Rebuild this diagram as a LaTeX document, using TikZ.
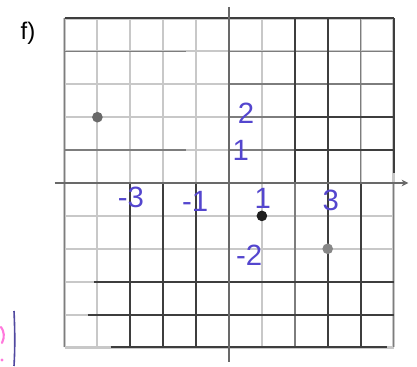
\documentclass[tikz,border=0pt]{standalone}
\usepackage{fontspec}
\setmainfont{Liberation Sans}
\usetikzlibrary{arrows.meta}
\tikzset{
	grid light/.style={draw={rgb, 255:red, 200; green, 200; blue, 200 }, line width=1.6pt},
	grid mid/.style={draw={rgb, 255:red, 125; green, 125; blue, 125 }, line width=1.3pt},
	grid dark/.style={draw={rgb, 255:red, 62; green, 62; blue, 62 }, line width=1.5pt},
	axis line/.style={draw={rgb, 255:red, 105; green, 105; blue, 105 }, line width=1.9pt},
	hand/.style={text={rgb, 255:red, 84; green, 70; blue, 206 }, font=\fontsize{22}{22}\selectfont, inner sep=0pt},
	plot pt/.style={circle, inner sep=0pt, minimum size=8pt}
}
\begin{document}
\begin{tikzpicture}[x=0.75pt,y=0.75pt]
	\useasboundingbox (0,0) rectangle (417,367);

	% Part label
	\node (lblF) at (28,334) {\fontsize{18}{18}\selectfont f)};

	% Margin marks
	\draw [draw={rgb, 255:red, 255; green, 120; blue, 220 }, line width=1.6pt, line cap=round] (1,40) .. controls (4,36) and (5,30) .. (2,24) ;
	\fill [fill={rgb, 255:red, 255; green, 120; blue, 220 }] (2,7) circle (1.6) ;
	\draw [draw={rgb, 255:red, 80; green, 72; blue, 160 }, line width=1.2pt] (14,56) .. controls (15,35) and (15,18) .. (14,1) ;

	\begin{scope}[shift={(229,184)}, x=24.675pt, y=24.675pt]
		% Grid
		\foreach \k in {-5,...,5} {
			\draw [grid light] (\k,-5) -- (\k,5) ;
			\draw [grid light] (-5,\k) -- (5,\k) ;
		}
		\draw [grid mid] (-5,-5) -- (-5,5) ;
		\draw [grid mid] (-5,4) -- (-1.3,4) (-5,1) -- (-1.3,1) ;
		\draw [grid mid] (0,4) -- (5,4) (0,3) -- (5,3) (0,2) -- (5,2) (0,1) -- (5,1) ;
		\draw [grid mid] (4,0) -- (4,5) (2,0) -- (2,-5) (5,0) -- (5,-5) ;
		\draw [grid dark] (-5,5) -- (5,5) ;
		\draw [grid dark] (2,0) -- (2,5) (3,0) -- (3,5) (5,0.3) -- (5,5) ;
		\draw [grid dark] (2,2) -- (5,2) (2,1) -- (5,1) ;
		\draw [grid dark] (-3,0) -- (-3,-5) (-2,0) -- (-2,-5) (-1,0) -- (-1,-5) ;
		\draw [grid dark] (3,0) -- (3,-5) (4,0) -- (4,-5) ;
		\draw [grid dark] (-4.1,-3) -- (5,-3) (-4.3,-4) -- (5,-4) (-3.6,-5) -- (4.8,-5) ;

		% Axes
		\coordinate (xL) at (-5.3,0);
		\coordinate (xR) at (5.45,0);
		\coordinate (yT) at (0,5.35);
		\coordinate (yB) at (0,-5.45);
		\draw [axis line, -{Stealth[length=5pt, width=5pt]}] (xL) -- (xR) ;
		\draw [axis line] (yT) -- (yB) ;

		% Points
		\node [plot pt, fill={rgb, 255:red, 105; green, 105; blue, 105 }] (ptA) at (-4,2) {};
		\node [plot pt, fill={rgb, 255:red, 30; green, 30; blue, 30 }] (ptB) at (1,-1) {};
		\node [plot pt, fill={rgb, 255:red, 135; green, 135; blue, 135 }] (ptC) at (3,-2) {};

		% Axis numbers
		\node [hand] (tY2) at (0.52,2.13) {2};
		\node [hand] (tY1) at (0.36,1.0) {1};
		\node [hand] (tYm2) at (0.61,-2.19) {-2};
		\node [hand] (tXm3) at (-2.98,-0.43) {-3};
		\node [hand] (tXm1) at (-1.03,-0.55) {-1};
		\node [hand] (tX1) at (1.03,-0.46) {1};
		\node [hand] (tX3) at (3.09,-0.52) {3};
	\end{scope}
\end{tikzpicture}
\end{document}
